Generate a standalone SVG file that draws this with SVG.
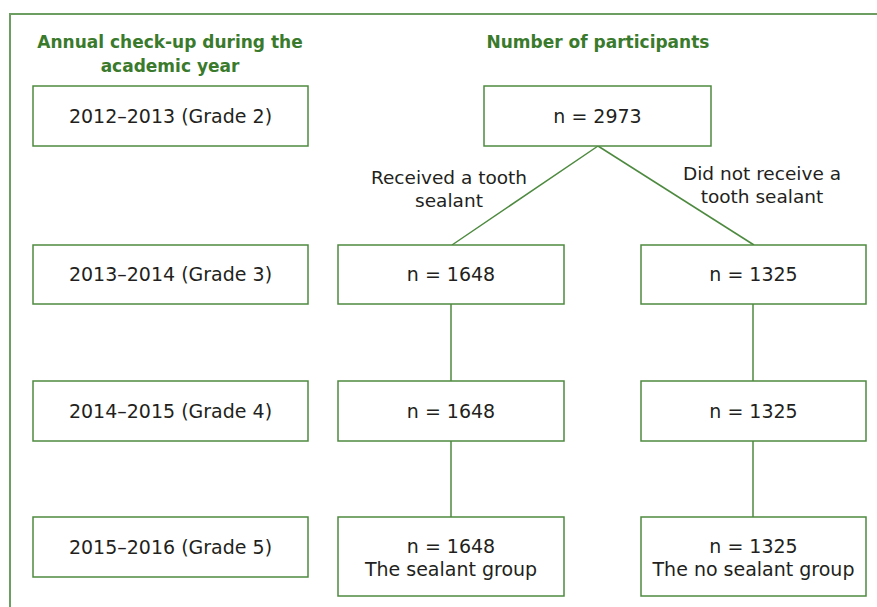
<svg xmlns="http://www.w3.org/2000/svg" width="877" height="607" viewBox="0 0 877 607">
<style>
.frame{fill:none;stroke:#6b9e60;stroke-width:2}
.box{fill:#fff;stroke:#4d8a3f;stroke-width:1.5}
.t{font-family:"DejaVu Sans",Verdana,sans-serif;font-size:19px;fill:#231f20;text-anchor:middle}
.lbl{font-family:"DejaVu Sans",Verdana,sans-serif;font-size:18.5px;fill:#231f20;text-anchor:middle}
.h{font-family:"DejaVu Sans",Verdana,sans-serif;font-size:17px;font-weight:bold;fill:#3a7a2c;text-anchor:middle}
.c{fill:none;stroke:#4d8a3f;stroke-width:1.5}
</style>
<rect width="877" height="607" fill="#fff"/>
<path class="frame" d="M10,607 V14 H877"/>
<g id="headers">
<text class="h" x="170" y="48">Annual check-up during the</text>
<text class="h" x="170" y="72">academic year</text>
<text class="h" x="598" y="48">Number of participants</text>
</g>
<g id="connectors">
<path class="c" d="M598,146 L452,245"/>
<path class="c" d="M598,146 L754,245"/>
<path class="c" d="M451,304 V381"/>
<path class="c" d="M753,304 V381"/>
<path class="c" d="M451,441 V517"/>
<path class="c" d="M753,441 V517"/>
<text class="lbl" x="449" y="184">Received a tooth</text>
<text class="lbl" x="449" y="207">sealant</text>
<text class="lbl" x="762" y="180">Did not receive a</text>
<text class="lbl" x="762" y="203">tooth sealant</text>
</g>
<g id="y1"><rect class="box" x="33" y="86" width="275" height="60"/><text class="t" x="170.5" y="123">2012–2013 (Grade 2)</text></g>
<g id="n0"><rect class="box" x="484" y="86" width="227" height="60"/><text class="t" x="597.5" y="123">n = 2973</text></g>
<g id="y2"><rect class="box" x="33" y="245" width="275" height="59"/><text class="t" x="170.5" y="281">2013–2014 (Grade 3)</text></g>
<g id="s2"><rect class="box" x="338" y="245" width="226" height="59"/><text class="t" x="451" y="281">n = 1648</text></g>
<g id="ns2"><rect class="box" x="641" y="245" width="225" height="59"/><text class="t" x="753.5" y="281">n = 1325</text></g>
<g id="y3"><rect class="box" x="33" y="381" width="275" height="60"/><text class="t" x="170.5" y="418">2014–2015 (Grade 4)</text></g>
<g id="s3"><rect class="box" x="338" y="381" width="226" height="60"/><text class="t" x="451" y="418">n = 1648</text></g>
<g id="ns3"><rect class="box" x="641" y="381" width="225" height="60"/><text class="t" x="753.5" y="418">n = 1325</text></g>
<g id="y4"><rect class="box" x="33" y="517" width="275" height="60"/><text class="t" x="170.5" y="554">2015–2016 (Grade 5)</text></g>
<g id="s4"><rect class="box" x="338" y="517" width="226" height="79"/><text class="t" x="451" y="553">n = 1648</text><text class="t" x="451" y="576">The sealant group</text></g>
<g id="ns4"><rect class="box" x="641" y="517" width="225" height="79"/><text class="t" x="753.5" y="553">n = 1325</text><text class="t" x="753.5" y="576">The no sealant group</text></g>
</svg>
